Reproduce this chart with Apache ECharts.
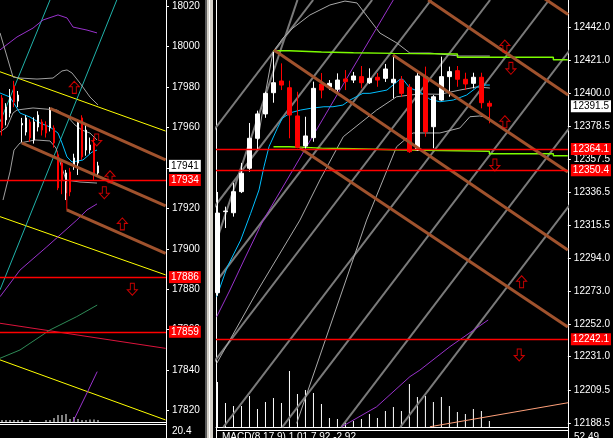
<!DOCTYPE html>
<html><head><meta charset="utf-8">
<script src="https://cdn.jsdelivr.net/npm/echarts@6/dist/echarts.min.js"></script>
<style>html,body{margin:0;padding:0;background:#000;}#c{width:613px;height:438px;}</style>
</head><body><div id="c"></div>
<script>
// ---------------- LEFT PANEL DATA ----------------
const leftTicks = [17820, 17840, 17860, 17880, 17900, 17920, 17940, 17960, 17980, 18000, 18020];
const leftOpen  = [17974.5,17963.7,17967.0,17980.5,17973.0,17961.2,17957.7,17962.7,17953.8,17960.2,17962.7,17961.2,17959.7,17959.7,17946.0,17942.4,17927.6,17938.0,17941.4,17942.4,17964.7,17948.8,17948.8,17952.3,17937.5];
const leftClose = [17959.7,17970.1,17975.0,17972.6,17976.0,17962.0,17964.7,17954.8,17962.7,17966.1,17958.7,17957.2,17968.6,17952.3,17930.1,17934.0,17937.5,17928.1,17944.9,17962.9,17945.4,17958.7,17951.3,17937.0,17941.0];
const leftLow   = [17956.0,17961.0,17965.0,17970.0,17970.0,17952.8,17956.0,17953.0,17952.0,17958.0,17956.0,17955.0,17958.0,17950.0,17929.0,17927.0,17924.1,17926.0,17939.0,17936.5,17944.0,17946.0,17947.0,17934.0,17936.0];
const leftHigh  = [17976.0,17972.0,17979.0,17983.0,17978.0,17964.7,17966.0,17964.0,17965.0,17968.0,17964.0,17963.0,17970.0,17961.0,17948.0,17944.0,17939.0,17940.0,17947.0,17964.0,17966.0,17962.0,17955.0,17955.0,17943.0];
const leftVolume = [2,2,2,2,2,2,0,2,0,0,0,2,2,4,7,7,8,3,5,3,2,2,2.5,2.5,2];
const leftBid = 17941;
const leftRedLevels = [17934, 17886, 17859];
const leftBrown = [
  [[12,17969.4],[40.9,17943.9]],
  [[4.93,17952.4],[40.9,17921.2]],
  [[16.2,17919.2],[40.9,17897.8]]
];
const leftHandle = [[16.2,17933.2],[16.2,17919.2]];
const leftYellow = [
  [[-0.5,17987.5],[40.9,17958.2]],
  [[-0.5,17915.9],[40.9,17887.1]],
  [[-0.5,17845.1],[40.9,17815.4]]
];
const leftCrimson = [[-0.5,17863.2],[40.9,17850.8]];
const leftTeal = [
  [[12,18023],[-0.5,17962.7]],
  [[28.7,18023],[-0.5,17879.7]]
];
const leftSeaGreen = [[-0.5,17845.9],[4.5,17850.0],[12,17859.9],[18.7,17866.5],[23.8,17872.2]];
const leftPurpleTop = [[-0.5,17998.3],[3.75,18004.7],[7.75,18009.1],[10.25,18013.1],[14,18015.6],[16.25,18014.1],[17.75,18009.6],[21.25,18008.1],[23.75,18006.7]];
const leftPurpleMid = [[-0.5,17876.3],[4.5,17889.5],[11.2,17901.0],[18.7,17914.2],[21.25,17919.2],[23.75,17922.2]];
const leftPurpleLow = [[17.75,17814.6],[21.6,17830.2],[23.8,17839.3]];
const leftBandUp = [[-0.5,18006.7],[2.75,17984.9],[4.5,17984.4],[8.75,17983.9],[12.75,17984.4],[15,17987.9],[16.25,17988.4],[17.5,17986.9],[19.5,17981.9],[22,17975.0],[24,17971.1]];
const leftBandMid = [[-0.5,17957.7],[1.25,17960.2],[2.75,17967.1],[3.75,17968.6],[7.75,17969.6],[13.75,17968.6],[16.5,17965.1],[18.25,17961.2],[20,17958.7],[22,17957.2],[23.75,17953.8]];
const leftBandLow = [[0.25,17924.1],[2,17938.0],[3,17948.8],[4.5,17952.3],[8.25,17953.8],[12,17953.3],[13.5,17949.8],[14.75,17941.4],[16,17934.0],[19.5,17933.0],[23.75,17932.5]];
const leftMA = [[-0.5,17977.0],[2,17975.0],[4.5,17967.1],[7,17965.1],[9.5,17962.2],[12,17960.2],[14,17957.2],[15,17952.3],[16.25,17945.4],[17.5,17942.9],[20.25,17943.9],[22.5,17947.8],[23.75,17948.8]];
const leftArrowsUp = [[18.08,17979.8],[27,17935.6],[30.08,17912.3]];
const leftArrowsDown = [[23.68,17953.8],[25.58,17927.7],[32.58,17880.0]];
const leftSubLabel = '20.4';

// ---------------- RIGHT PANEL DATA ----------------
const rightTicks = [12188.5, 12209.5, 12231.0, 12252.0, 12273.0, 12294.0, 12315.5, 12336.5, 12357.5, 12378.5, 12400.0, 12421.0, 12442.0];
const rightOpen  = [12272.0,12323.9,12323.2,12336.7,12351.7,12370.9,12386.5,12400.1,12407.6,12403.3,12385.2,12366.0,12371.3,12405.7,12403.8,12402.3,12408.9,12408.2,12410.4,12406.5,12410.0,12409.3,12406.5,12408.2,12403.6,12363.4,12410.4,12378.3,12395.4,12410.4,12414.2,12408.7,12406.1,12410.0,12393.3];
const rightClose = [12323.0,12324.3,12336.7,12348.5,12370.9,12386.5,12399.7,12406.5,12405.0,12385.8,12365.1,12372.4,12402.9,12401.8,12406.1,12408.2,12407.2,12410.8,12406.5,12409.3,12408.2,12415.3,12408.7,12399.7,12362.3,12410.8,12375.1,12397.5,12410.4,12413.6,12408.7,12405.7,12410.0,12393.7,12391.5];
const rightLow   = [12270.0,12313.4,12320.7,12335.8,12349.5,12363.4,12384.0,12393.7,12401.8,12370.9,12364.5,12364.5,12368.7,12396.5,12401.8,12400.6,12401.8,12406.3,12402.9,12405.7,12403.9,12407.0,12396.5,12397.3,12361.5,12362.8,12371.9,12364.5,12395.0,12397.5,12403.9,12401.8,12402.9,12390.1,12380.5];
const rightHigh  = [12336.5,12327.1,12342.3,12355.1,12380.7,12388.6,12400.7,12426.2,12418.9,12407.8,12400.7,12384.7,12407.2,12412.7,12408.2,12412.5,12414.6,12413.4,12417.2,12415.7,12412.7,12418.5,12424.3,12410.8,12405.7,12412.7,12416.8,12398.6,12423.2,12416.8,12417.2,12412.9,12412.9,12412.9,12395.0];
const rightVolume = [45,24,21,21,31,18,25,29,24,56,33,37,34,23,9,8,5,6,8,13,9,16,20,16,43,30,31,25,30,21,15,13,18,16,6];
const rightBid = 12391.5;
const rightRedLevels = [12364.1, 12350.4, 12242.1];
const rightBrown = [
  [[40.31,12462.4],[43.85,12450.2]],
  [[26.35,12459.5],[43.85,12398.6]],
  [[7.06,12427.5],[43.81,12299.3]],
  [[21.94,12424.3],[43.81,12349.3]],
  [[10.31,12364.7],[43.81,12250.0]]
];
const rightGreenHigh = [[7,12427.0],[9,12426.2],[13,12425.7],[17,12425.3],[22,12424.9],[30,12422.8],[42,12421.2],[43.8,12421.2]];
const rightGreenLow  = [[7,12365.5],[9,12364.6],[13,12364.2],[17,12363.6],[22,12362.6],[34,12361.0],[42,12359.7],[43.8,12359.7]];
const rightGann = [
  [[-28.78,12185.9],[11.96,12459.5]],
  [[-21.4,12185.9],[19.34,12459.5]],
  [[-14.03,12185.9],[26.71,12459.5]],
  [[-6.65,12185.9],[34.09,12459.5]],
  [[0.73,12185.9],[41.46,12459.5]],
  [[8.1,12185.9],[48.84,12459.5]],
  [[15.48,12185.9],[56.21,12459.5]],
  [[22.85,12185.9],[63.59,12459.5]]
];
const rightGannSteep = [[-0.1,12305.7],[10,12459.5]];
const rightMA = [[-0.1,12269.4],[1.23,12288.6],[2.9,12305.7],[4.15,12322.8],[5.19,12337.8],[5.81,12352.7],[6.44,12365.5],[7.48,12377.3],[8.1,12383.7],[9.15,12387.3],[10.4,12389.0],[11.65,12390.1],[13.31,12391.1],[14.44,12391.1],[15.69,12392.2],[16.56,12395.4],[18.19,12399.7],[19.06,12399.7],[21.19,12401.8],[22.81,12408.7],[23.19,12408.7],[24.06,12403.1],[25.31,12400.7],[26.56,12395.9],[27.81,12394.3],[29.48,12395.4],[31.15,12398.6],[32.81,12405.0],[34.06,12405.0]];
const rightBandUp = [[5.06,12369.8],[6.06,12401.8],[6.94,12426.2],[8.19,12435.1],[9.44,12441.6],[11.56,12449.9],[14.06,12456.3],[15.94,12458.8],[17.44,12457.6],[19.06,12446.7],[20.31,12438.3],[22.44,12431.9],[24.06,12425.5],[26.56,12425.5],[30.31,12423.6],[34.06,12423.6]];
const rightBandMid = [[-0.1,12226.7],[5.06,12273.7],[10.31,12318.5],[12.81,12344.2],[15.73,12371.9],[19.9,12389.0],[22.4,12397.5],[24.06,12398.6],[25.31,12399.3],[27.81,12399.1],[30.31,12401.8],[32.44,12403.8],[34.06,12403.1]];
const rightBandLow = [[9.9,12188.3],[18.65,12318.5],[22.4,12365.5],[24.44,12374.3],[27.81,12374.3],[30.31,12377.5],[31.56,12384.7],[32.81,12385.2],[34.06,12383.9]];
const rightPurple = [[-0.1,12256.6],[1.56,12273.7],[3.44,12294.2],[5.73,12318.5],[10.31,12358.3],[16.56,12412.7],[21.98,12459.5]];
const rightPurpleLow = [[15.53,12186.1],[19.9,12198.9],[24.06,12218.2],[25.31,12222.4],[29.06,12237.4],[33.85,12254.5]];
const rightSalmon = [[26.56,12186.1],[43.85,12201.5]];
const rightArrowsUp = [[35.94,12430.0],[35.94,12381.5],[38.03,12279.0]];
const rightArrowsDown = [[36.69,12415.7],[34.69,12353.8],[37.73,12232.1]];
const rightSubLabel = '52.49';
const macdText = 'MACD(8,17,9) 1.01 7.92 -2.92';

// ---------------- BUILD ----------------
const FONT = 'Liberation Sans';
const UP_ARROW = 'path://M5,0L10,5L7,5L7,11L3,11L3,5L0,5Z';
const DOWN_ARROW = 'path://M3,0L7,0L7,6L10,6L5,11L0,6L3,6Z';
function candles(o, c, l, h) { return o.map((v, i) => [i, o[i], c[i], l[i], h[i]]); }
function ln(xi, yi, data, color, width, z) {
  return {type: 'line', xAxisIndex: xi, yAxisIndex: yi, data: data, symbol: 'none', silent: true,
    animation: false, clip: true, z: z || 2, lineStyle: {color: color, width: width, type: 'solid'}};
}
function arrows(xi, yi, data, sym) {
  return {type: 'scatter', xAxisIndex: xi, yAxisIndex: yi, data: data, symbol: sym, symbolSize: [10, 12],
    silent: true, animation: false, z: 6,
    itemStyle: {color: 'rgba(0,0,0,0)', borderColor: '#ff0000', borderWidth: 1}};
}
function boxLabel(bg, fg, digits) {
  return {show: true, position: 'end', distance: 3, backgroundColor: bg, color: fg,
    fontFamily: FONT, fontSize: 10, lineHeight: 11, padding: [1, 2, 0, 2],
    formatter: p => Number(p.value).toFixed(digits)};
}
function redLines(levelsArr, digits) {
  return {symbol: 'none', silent: true, animation: false, precision: digits,
    lineStyle: {color: '#ff0000', width: 1.4, type: 'solid', opacity: 1},
    emphasis: {disabled: true},
    label: boxLabel('#ff0000', '#ffffff', digits),
    data: levelsArr.map(v => ({yAxis: v}))};
}
function bidLine(v, digits) {
  return {symbol: 'none', silent: true, animation: false, precision: digits,
    lineStyle: {color: 'rgba(0,0,0,0)', width: 1, type: 'solid'},
    emphasis: {disabled: true},
    label: boxLabel('#ffffff', '#000000', digits),
    data: [{yAxis: v}]};
}
function yAx(grid, min, max, ticks, digits) {
  return {type: 'value', gridIndex: grid, position: 'right', min: min, max: max,
    axisLine: {show: true, onZero: false, lineStyle: {color: '#ffffff', width: 1}},
    axisTick: {show: true, length: 3, lineStyle: {color: '#ffffff'}, customValues: ticks},
    axisLabel: {show: true, margin: 6, color: '#ffffff', fontFamily: FONT, fontSize: 10, customValues: ticks,
      formatter: v => Number(v).toFixed(digits)},
    splitLine: {show: false}};
}
function xAx(grid, min, max) {
  return {type: 'value', gridIndex: grid, min: min, max: max, position: 'bottom',
    axisLine: {show: true, onZero: false, lineStyle: {color: '#ffffff'}}, axisTick: {show: false},
    axisLabel: {show: false}, splitLine: {show: false}};
}
const candleStyle = {color: '#ffffff', color0: '#ff0000', borderColor: '#ffffff', borderColor0: '#ff0000', borderWidth: 1};

const series = [];
// left panel (grid 0)
series.push({type: 'bar', xAxisIndex: 0, yAxisIndex: 1, data: leftVolume.map((v, i) => [i, v]), barWidth: 1, itemStyle: {color: '#ffffff'}, silent: true, animation: false, z: 1});
leftYellow.forEach(s => series.push(ln(0, 0, s, '#ffff00', 1)));
series.push(ln(0, 0, leftCrimson, '#dc143c', 1));
leftTeal.forEach(s => series.push(ln(0, 0, s, '#20b2aa', 1)));
series.push(ln(0, 0, leftSeaGreen, '#2e8b57', 1));
series.push(ln(0, 0, leftPurpleTop, '#9932cc', 1));
series.push(ln(0, 0, leftPurpleMid, '#9932cc', 1));
series.push(ln(0, 0, leftPurpleLow, '#9932cc', 1));
[leftBandUp, leftBandMid, leftBandLow].forEach(s => series.push(ln(0, 0, s, '#a0a0a0', 1)));
series.push(Object.assign(ln(0, 0, leftMA, '#00bfff', 1), {markLine: bidLine(leftBid, 0)}));
series.push({type: 'candlestick', xAxisIndex: 0, yAxisIndex: 0, data: candles(leftOpen, leftClose, leftLow, leftHigh),
  barWidth: 2, itemStyle: candleStyle, silent: true, animation: false, z: 3,
  markLine: redLines(leftRedLevels, 0)});
series.push(ln(0, 0, leftHandle, '#ff0000', 1, 4));
leftBrown.forEach(s => series.push(ln(0, 0, s, '#a0522d', 3, 4)));
series.push(arrows(0, 0, leftArrowsUp, UP_ARROW));
series.push(arrows(0, 0, leftArrowsDown, DOWN_ARROW));

// right panel (grid 1)
series.push({type: 'bar', xAxisIndex: 1, yAxisIndex: 3, data: rightVolume.map((v, i) => [i, v]), barWidth: 1, itemStyle: {color: '#ffffff'}, silent: true, animation: false, z: 1});
rightGann.forEach(s => series.push(ln(1, 2, s, '#7a7a7a', 2)));
series.push(ln(1, 2, rightGannSteep, '#7a7a7a', 2));
[rightBandUp, rightBandMid, rightBandLow].forEach(s => series.push(ln(1, 2, s, '#a9a9a9', 1)));
series.push(ln(1, 2, rightPurple, '#9932cc', 1));
series.push(ln(1, 2, rightPurpleLow, '#9932cc', 1));
series.push(ln(1, 2, rightSalmon, '#ffa07a', 1));
series.push(Object.assign(ln(1, 2, rightMA, '#00bfff', 1), {markLine: bidLine(rightBid, 1)}));
series.push(Object.assign(ln(1, 2, rightGreenHigh, '#7cfc00', 1.4, 3), {step: 'end'}));
series.push(Object.assign(ln(1, 2, rightGreenLow, '#7cfc00', 1.4, 3), {step: 'end'}));
series.push({type: 'candlestick', xAxisIndex: 1, yAxisIndex: 2, data: candles(rightOpen, rightClose, rightLow, rightHigh),
  barWidth: 4, itemStyle: candleStyle, silent: true, animation: false, z: 3,
  markLine: redLines(rightRedLevels, 1)});
rightBrown.forEach(s => series.push(ln(1, 2, s, '#a0522d', 3, 4)));
series.push(arrows(1, 2, rightArrowsUp, UP_ARROW));
series.push(arrows(1, 2, rightArrowsDown, DOWN_ARROW));

const chart = echarts.init(document.getElementById('c'), null, {renderer: 'canvas'});
chart.setOption({
  backgroundColor: '#000000',
  animation: false,
  grid: [
    {left: 0, top: 0, width: 166, height: 422},
    {left: 216, top: 0, width: 352, height: 427}
  ],
  xAxis: [xAx(0, -0.5, 41), xAx(1, -0.1875, 43.8125)],
  yAxis: [
    yAx(0, 17814.4, 18022.97, leftTicks, 0),
    {type: 'value', gridIndex: 0, min: 0, max: 422, show: false},
    yAx(1, 12185.94, 12459.49, rightTicks, 1),
    {type: 'value', gridIndex: 1, min: 0, max: 427, show: false}
  ],
  series: series,
  graphic: [
    {type: 'rect', shape: {x: 205, y: 0, width: 2, height: 438}, style: {fill: '#5a5a5a'}},
    {type: 'rect', shape: {x: 207, y: 0, width: 6, height: 438}, style: {fill: '#d4d0c8'}},
    {type: 'rect', shape: {x: 209, y: 0, width: 1, height: 438}, style: {fill: '#ffffff'}},
    {type: 'line', shape: {x1: 216.5, y1: 0, x2: 216.5, y2: 438}, style: {stroke: '#ffffff', lineWidth: 1}},
    {type: 'line', shape: {x1: 0, y1: 424.5, x2: 166, y2: 424.5}, style: {stroke: '#ffffff', lineWidth: 1}},
    {type: 'line', shape: {x1: 166.5, y1: 422, x2: 166.5, y2: 438}, style: {stroke: '#ffffff', lineWidth: 1}},
    {type: 'text', x: 172, y: 426, style: {text: leftSubLabel, fill: '#ffffff', font: '10px "Liberation Sans"'}},
    {type: 'line', shape: {x1: 216, y1: 430.5, x2: 568, y2: 430.5}, style: {stroke: '#ffffff', lineWidth: 1}},
    {type: 'line', shape: {x1: 568.5, y1: 427, x2: 568.5, y2: 438}, style: {stroke: '#ffffff', lineWidth: 1}},
    {type: 'text', x: 574, y: 432, style: {text: rightSubLabel, fill: '#ffffff', font: '10px "Liberation Sans"'}},
    {type: 'text', x: 222, y: 432, style: {text: macdText, fill: '#ffffff', font: '10px "Liberation Sans"'}}
  ]
});
</script></body></html>
